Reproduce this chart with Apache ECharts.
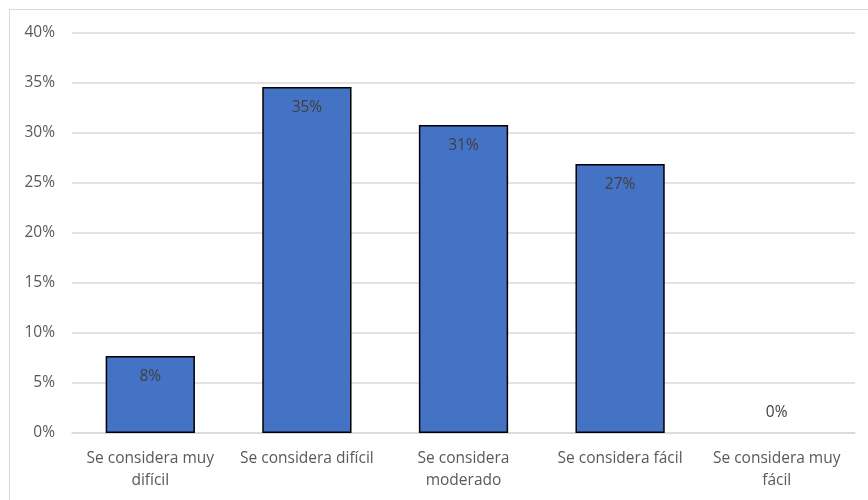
<!DOCTYPE html>
<html><head><meta charset="utf-8">
<script src="https://cdn.jsdelivr.net/npm/echarts@6/dist/echarts.min.js"></script>
<style>html,body{margin:0;padding:0;background:#fff}#c{width:868px;height:500px}
#frame{position:absolute;left:9px;top:9px;width:880px;height:520px;border:1.5px solid #d9d9d9;box-sizing:border-box;pointer-events:none}</style>
</head><body><div id="c"></div><div id="frame"></div>
<script>
const categories = ['Se considera muy\ndifícil', 'Se considera difícil', 'Se considera\nmoderado', 'Se considera fácil', 'Se considera muy\nfácil'];
const values = [7.7, 34.6, 30.8, 26.9, 0];
const yTicks = [0, 5, 10, 15, 20, 25, 30, 35, 40];

const font = 'Open Sans';
const chart = echarts.init(document.getElementById('c'));
chart.setOption({
  animation: false,
  grid: {left: 72, right: 13, top: 33, bottom: 67},
  xAxis: {
    type: 'category', data: categories,
    axisLine: {lineStyle: {color: '#d9d9d9', width: 1.5}},
    axisTick: {show: false},
    axisLabel: {color: '#595959', fontSize: 15.5, fontFamily: font, margin: 15, lineHeight: 22, interval: 0}
  },
  yAxis: {
    type: 'value', min: yTicks[0], max: yTicks[yTicks.length - 1], interval: 5,
    axisLabel: {formatter: v => v + '%', color: '#595959', fontSize: 15.5, fontFamily: font, margin: 17},
    splitLine: {lineStyle: {color: '#d9d9d9', width: 1.5}},
    axisLine: {show: false}, axisTick: {show: false}
  },
  series: [{
    type: 'bar', barWidth: '57%',
    data: values.map(v => v === 0 ? {value: v, itemStyle: {borderWidth: 0}, label: {position: 'top', distance: 12}} : v),
    itemStyle: {color: '#4472c4', borderColor: '#000', borderWidth: 1.5},
    label: {show: true, position: 'insideTop', distance: 13, color: '#404040', fontSize: 15.5, fontFamily: font,
      formatter: p => Math.round(p.value) + '%'}
  }]
});
</script></body></html>
